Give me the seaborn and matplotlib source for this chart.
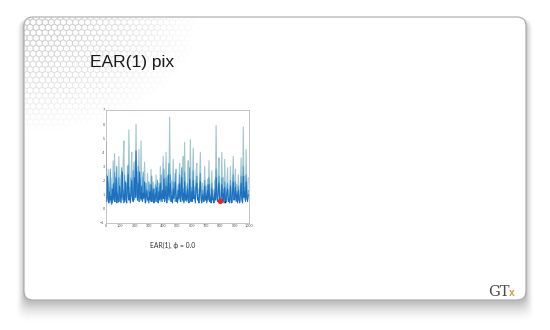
import numpy as np
import pandas as pd
import matplotlib
matplotlib.use("Agg")
import matplotlib.pyplot as plt
import seaborn as sns
from matplotlib.patches import FancyBboxPatch, RegularPolygon

# ---------------- data ----------------
light_vals = [
    4.7, 1.2, 0.8, 2.8, 0.6, 1.5, 0.4, 2.2, 1.0, 0.5,
    3.4, 0.7, 3.9, 1.1, 0.5, 2.0, 0.9, 0.4, 3.7, 1.3,
    0.6, 2.4, 0.8, 1.6, 3.4, 4.8, 0.7, 1.9, 0.5, 1.2,
    3.0, 0.8, 5.6, 1.4, 0.6, 2.5, 4.0, 0.9, 1.7, 3.3,
    0.7, 1.8, 6.0, 1.2, 2.6, 0.8, 4.2, 1.5, 0.6, 4.8,
    1.0, 2.2, 0.7, 1.6, 3.3, 0.9, 1.4, 0.5, 2.5, 1.1,
    0.6, 1.7, 0.8, 2.8, 1.2, 0.5, 1.9, 0.7, 1.3, 0.6,
    2.4, 0.9, 1.5, 0.5, 1.8, 0.8, 3.0, 1.2, 0.6, 2.1,
    3.7, 0.9, 1.6, 0.6, 4.0, 1.3, 0.7, 2.3, 1.0, 6.5,
    1.2, 0.6, 2.0, 0.8, 3.5, 1.4, 0.5, 1.8, 2.8, 0.7,
    1.3, 0.6, 2.1, 3.2, 0.9, 1.5, 0.5, 2.4, 3.7, 1.1,
    4.7, 0.8, 1.6, 0.6, 2.2, 3.4, 1.0, 0.5, 4.9, 1.3,
    0.7, 2.0, 4.3, 0.9, 1.5, 0.6, 2.6, 3.2, 0.8, 1.4,
    0.5, 2.3, 4.0, 1.1, 0.7, 1.8, 0.6, 1.2, 3.0, 0.9,
    1.6, 0.5, 2.1, 0.8, 3.4, 1.2, 0.6, 1.7, 2.7, 0.8,
    1.3, 0.5, 2.0, 0.9, 5.9, 1.4, 0.7, 2.4, 3.6, 1.0,
    0.6, 1.5, 4.0, 0.8, 2.2, 0.5, 3.5, 1.1, 0.7, 1.8,
    2.9, 0.6, 1.3, 0.8, 3.0, 1.2, 0.5, 2.1, 3.7, 0.9,
    1.4, 2.8, 0.6, 1.7, 0.8, 2.4, 1.1, 0.5, 1.9, 3.6,
    1.0, 0.7, 5.8, 1.5, 2.3, 0.6, 4.2, 1.2, 0.8, 2.2,
]
mid_vals = [
    2.4, 0.6, 1.1, 1.9, 0.5, 0.9, 2.8, 0.7, 1.4, 0.4,
    1.7, 0.8, 2.6, 0.5, 1.2, 3.0, 0.6, 1.0, 2.2, 0.7,
    0.5, 1.6, 2.9, 0.8, 1.3, 0.4, 2.4, 1.0, 0.6, 1.8,
    1.1, 3.1, 0.7, 1.5, 0.5, 2.2, 0.9, 1.3, 2.7, 0.6,
    1.4, 3.4, 0.8, 2.0, 0.6, 3.0, 1.1, 0.5, 2.1, 0.9,
    0.6, 1.5, 2.6, 0.7, 1.0, 0.5, 1.8, 0.8, 1.2, 0.6,
    1.9, 0.7, 1.1, 0.5, 2.3, 0.9, 0.6, 1.4, 0.8, 1.7,
    0.5, 1.2, 2.0, 0.6, 1.0, 1.6, 0.7, 2.4, 0.9, 0.5,
    1.3, 2.8, 0.7, 1.1, 2.2, 0.6, 1.5, 0.9, 3.2, 0.8,
    2.4, 0.6, 1.2, 0.5, 1.9, 0.8, 1.3, 2.5, 0.7, 1.0,
    0.5, 1.7, 0.9, 2.4, 0.6, 1.1, 2.9, 0.7, 1.4, 0.5,
    2.6, 0.8, 1.2, 0.6, 1.8, 0.9, 0.5, 2.9, 1.0, 0.7,
    1.5, 0.6, 2.7, 0.8, 1.2, 0.5, 1.9, 2.3, 0.7, 1.0,
    0.6, 1.6, 2.5, 0.8, 0.5, 1.3, 0.9, 0.6, 2.0, 0.7,
    1.1, 0.5, 1.7, 0.8, 2.2, 0.6, 1.0, 0.5, 1.8, 0.7,
    0.9, 0.5, 1.4, 0.7, 2.8, 0.9, 0.6, 1.5, 2.3, 0.7,
    0.5, 1.0, 2.2, 0.6, 1.4, 0.5, 1.9, 0.8, 0.6, 1.2,
    1.8, 0.6, 0.9, 0.5, 2.0, 0.8, 0.5, 1.5, 2.4, 0.7,
    1.0, 1.9, 0.6, 1.2, 0.5, 1.6, 0.8, 0.5, 1.3, 2.3,
    0.7, 0.5, 3.0, 1.0, 1.5, 0.6, 2.4, 0.8, 0.6, 1.3,
]
dark_vals = [
    1.0, 0.5, 2.3, 0.7, 0.4, 1.2, 0.6, 0.9, 0.3, 1.4,
    0.6, 1.8, 0.5, 0.9, 2.2, 0.4, 1.1, 0.7, 0.5, 1.6,
    0.9, 0.4, 1.3, 2.6, 0.6, 1.0, 0.5, 1.9, 0.8, 0.4,
    1.5, 2.4, 0.6, 1.1, 0.4, 0.9, 2.0, 0.7, 0.5, 1.3,
    2.2, 0.8, 4.1, 1.4, 0.6, 1.8, 0.5, 2.6, 1.0, 0.7,
    1.6, 0.5, 1.1, 0.8, 1.9, 0.4, 0.9, 1.3, 0.6, 0.8,
    0.4, 1.2, 0.6, 1.7, 0.5, 0.9, 1.4, 0.4, 0.8, 1.1,
    0.5, 1.5, 0.7, 0.4, 1.2, 0.6, 1.8, 0.5, 0.9, 1.3,
    0.7, 2.1, 0.5, 1.0, 1.6, 0.4, 0.9, 2.4, 0.6, 1.2,
    1.8, 0.5, 0.9, 0.4, 1.4, 0.7, 1.1, 1.9, 0.5, 0.8,
    0.4, 1.3, 0.7, 1.8, 0.5, 0.9, 2.2, 0.6, 1.1, 0.4,
    1.9, 0.6, 1.0, 0.5, 1.4, 0.7, 0.4, 2.1, 0.8, 0.5,
    1.2, 0.5, 2.0, 0.7, 0.9, 0.4, 1.5, 1.8, 0.6, 0.8,
    0.4, 1.3, 1.9, 0.6, 0.4, 1.0, 0.7, 0.5, 1.6, 0.6,
    0.9, 0.4, 1.3, 0.6, 1.7, 0.5, 0.8, 0.4, 1.4, 0.6,
    0.7, 0.4, 1.1, 0.6, 2.2, 0.7, 0.5, 1.2, 1.8, 0.5,
    0.4, 0.8, 1.7, 0.5, 1.1, 0.4, 1.5, 0.6, 0.5, 1.0,
    1.4, 0.5, 0.7, 0.4, 1.6, 0.6, 0.4, 1.2, 1.9, 0.6,
    0.8, 1.5, 0.5, 1.0, 0.4, 1.3, 0.6, 0.4, 1.0, 1.8,
    0.6, 0.4, 2.3, 0.8, 1.2, 0.5, 1.9, 0.7, 0.5, 1.0,
]
sample_step = 5
red_point = (800, 0.52)
black_point = (835, 0.45)

x_ticks = [0, 100, 200, 300, 400, 500, 600, 700, 800, 900, 1000]
y_ticks = [-1, 0, 1, 2, 3, 4, 5, 6, 7]
title_text = "EAR(1) pix"
caption_text = "EAR(1), \u03d5 = 0.0"

# ---------------- figure & slide decoration ----------------
sns.set_theme(style="white")
plt.rcParams['font.family'] = ['Liberation Sans', 'DejaVu Sans']

W, H = 550, 330
fig = plt.figure(figsize=(5.5, 3.3), dpi=100)
fig.patch.set_facecolor("white")

bg = fig.add_axes([0, 0, 1, 1])
bg.set_xlim(0, W)
bg.set_ylim(H, 0)
bg.axis("off")

# soft shadow of the card (offset downwards)
for i, a in enumerate(np.linspace(0.045, 0.008, 10)):
    d = 1 + i * 1.5
    sh = FancyBboxPatch((24 - d * 0.5, 19), 502 + d * 1.0, 283 + d * 1.3,
                        boxstyle="round,pad=0,rounding_size=10",
                        fc="black", ec="none", alpha=a, zorder=1)
    bg.add_patch(sh)

card = FancyBboxPatch((24, 17), 502, 283, boxstyle="round,pad=0,rounding_size=9",
                      fc="white", ec="#a8a8a8", lw=0.8, zorder=2)
bg.add_patch(card)

# honeycomb pattern in the top-left corner, fading out
r = 3.5
dx = r * np.sqrt(3)
dy = r * 1.5
for row in range(0, 40):
    yc = 17 + row * dy
    for col in range(0, 50):
        xc = 24 + col * dx + (dx / 2 if row % 2 else 0)
        dist = np.hypot((xc - 24) / 180.0, (yc - 17) / 120.0)
        alpha = 0.75 * (1 - dist) ** 1.2 if dist < 1 else 0
        if alpha <= 0.02:
            continue
        hx = RegularPolygon((xc, yc), numVertices=6, radius=r * 0.95,
                            orientation=0, fc="none", ec="#bdbdbd",
                            lw=0.6, alpha=alpha, zorder=3)
        bg.add_patch(hx)
        hx.set_clip_path(card)

bg.text(90, 62, title_text, fontsize=12.5, color="#1a1a1a", va="center", ha="left", zorder=5)
bg.text(173, 245.5, caption_text, fontsize=4.9, color="#333333", va="center", ha="center",
        family=["Lato", "DejaVu Sans"], zorder=5)
bg.text(488.5, 291.8, "GT", fontsize=10.5, color="#4a4a4a", va="center", ha="left",
        family=["DejaVu Serif", "DejaVu Sans"], zorder=5)
bg.text(509, 293, "x", fontsize=7.5, color="#c8a130", fontweight="bold",
        va="center", ha="left", zorder=5)

# ---------------- the chart ----------------
ax = fig.add_axes([106 / W, 1 - 222.7 / H, 143 / W, (222.7 - 110) / H])
ax.set_facecolor("white")

n = len(light_vals)
x = np.arange(n) * sample_step
df = pd.DataFrame({"t": np.concatenate([x, x, x]),
                   "v": light_vals + mid_vals + dark_vals,
                   "s": ["light"] * n + ["mid"] * n + ["dark"] * n})

sns.lineplot(data=df[df.s == "light"], x="t", y="v", ax=ax, color="#a3c6d0", lw=0.8)
sns.lineplot(data=df[df.s == "mid"], x="t", y="v", ax=ax, color="#4aa0d6", lw=0.75)
sns.lineplot(data=df[df.s == "dark"], x="t", y="v", ax=ax, color="#1f6fbf", lw=0.75)

pts = pd.DataFrame({"t": [red_point[0], black_point[0]],
                    "v": [red_point[1], black_point[1]]})
sns.scatterplot(data=pts.iloc[[0]], x="t", y="v", ax=ax, color="#ee2222", s=16,
                edgecolor="none", zorder=5)
sns.scatterplot(data=pts.iloc[[1]], x="t", y="v", ax=ax, color="#111111", s=2,
                edgecolor="none", zorder=5)

ax.set_xlim(0, 1000)
ax.set_ylim(-1, 7)
ax.set_xticks(x_ticks)
ax.set_yticks(y_ticks)
ax.tick_params(labelsize=2.8, length=1, width=0.3, pad=1, colors="#555555",
               direction="in")
ax.set_xlabel("")
ax.set_ylabel("")
for sp in ax.spines.values():
    sp.set_color("#999999")
    sp.set_linewidth(0.4)

fig.savefig("out.png", dpi=100)
